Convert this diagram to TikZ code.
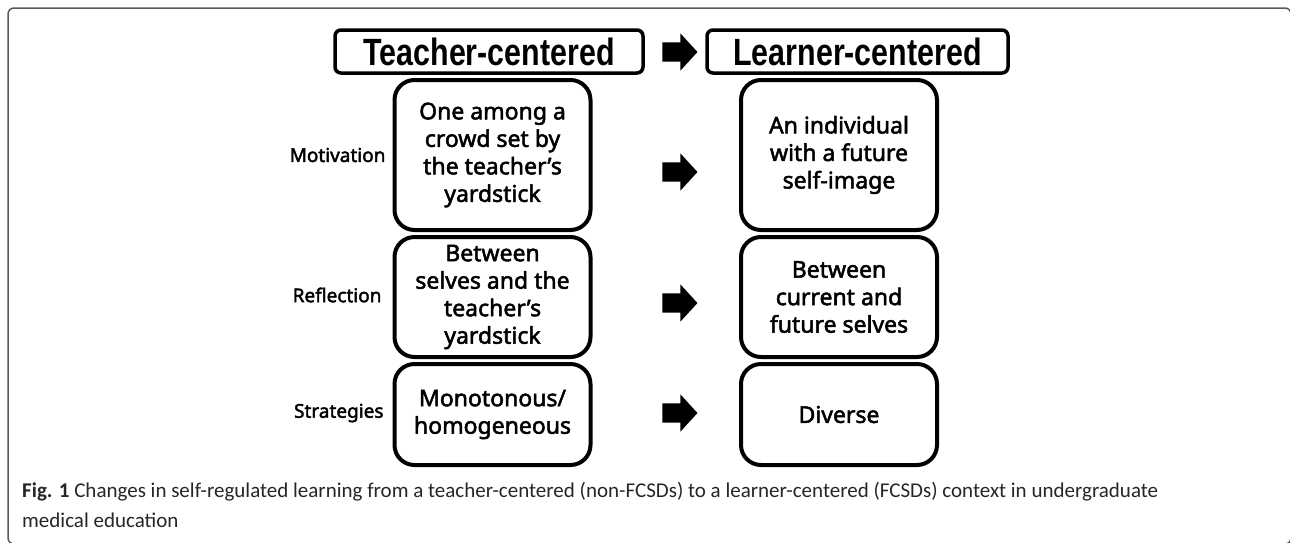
\documentclass[tikz,border=0pt]{standalone}
\usepackage{fontspec}
\setmainfont{Noto Sans}
\newfontfamily\boxfont[FakeBold=2.2]{Noto Sans}
\newfontfamily\headfont[FakeStretch=0.8]{Liberation Sans}
\newfontfamily\capfont{Carlito}
\usetikzlibrary{shapes.arrows}

\tikzset{
  headbox/.style={draw, rounded corners=6pt, line width=3.5pt, inner sep=0pt,
    minimum height=43pt, font=\headfont\bfseries\fontsize{38}{38}\selectfont},
  cellbox/.style={draw, rounded corners=20pt, line width=4pt, inner sep=0pt,
    minimum width=196pt, align=center, font=\boxfont\fontsize{23}{27.5}\selectfont},
  rowlabel/.style={font=\boxfont\fontsize{19}{22}\selectfont},
  bigarrow/.style={single arrow, fill=black, draw=none, inner xsep=0pt,
    inner ysep=9.5pt, minimum height=35pt, single arrow head extend=9pt,
    single arrow tip angle=95},
  caption/.style={anchor=west, inner sep=0pt, text=black!85,
    font=\capfont\fontsize{21}{26}\selectfont}
}

\begin{document}
\begin{tikzpicture}[x=1pt, y=-1pt]
      \clip (0,0) rectangle (1290,542);
      % outer frame
      \draw[black!65, line width=1.5pt, rounded corners=6pt] (8,8) rectangle (1291,544);

      % headers
      \node[headbox, minimum width=308pt] (tc) at (489,51.5) {Teacher-centered};
      \node[headbox, minimum width=301pt] (lc) at (857.5,51.5) {Learner-centered};
      \node[bigarrow] (a0) at (675.5,52) {};

      % rows
      \node[cellbox, minimum height=150pt] (t1) at (492.5,155) {One among a\\crowd set by\\the teacher’s\\yardstick};
      \node[cellbox, minimum height=120pt] (t2) at (492.5,297) {Between\\selves and the\\teacher’s\\yardstick};
      \node[cellbox, minimum height=101pt] (t3) at (492.5,414.5) {Monotonous/\\homogeneous};

      \node[cellbox, minimum height=150pt] (l1) at (839,155) {An individual\\with a future\\self-image};
      \node[cellbox, minimum height=120pt] (l2) at (839,297) {Between\\current and\\future selves};
      \node[cellbox, minimum height=101pt] (l3) at (839,414.5) {Diverse};

      \node[rowlabel, anchor=east] (m) at (389,155) {Motivation};
      \node[rowlabel, anchor=east] (r) at (385,295) {Reflection};
      \node[rowlabel, anchor=east] (s) at (387,413) {Strategies};

      \node[bigarrow] (a1) at (675.5,172) {};
      \node[bigarrow] (a2) at (675.5,303) {};
      \node[bigarrow] (a3) at (675.5,413) {};

      % caption
      \node[caption] (c1) at (22,492) {{\bfseries Fig. 1} Changes in self-regulated learning from a teacher-centered (non-FCSDs) to a learner-centered (FCSDs) context in undergraduate};
      \node[caption] (c2) at (22,520) {medical education};
\end{tikzpicture}
\end{document}
